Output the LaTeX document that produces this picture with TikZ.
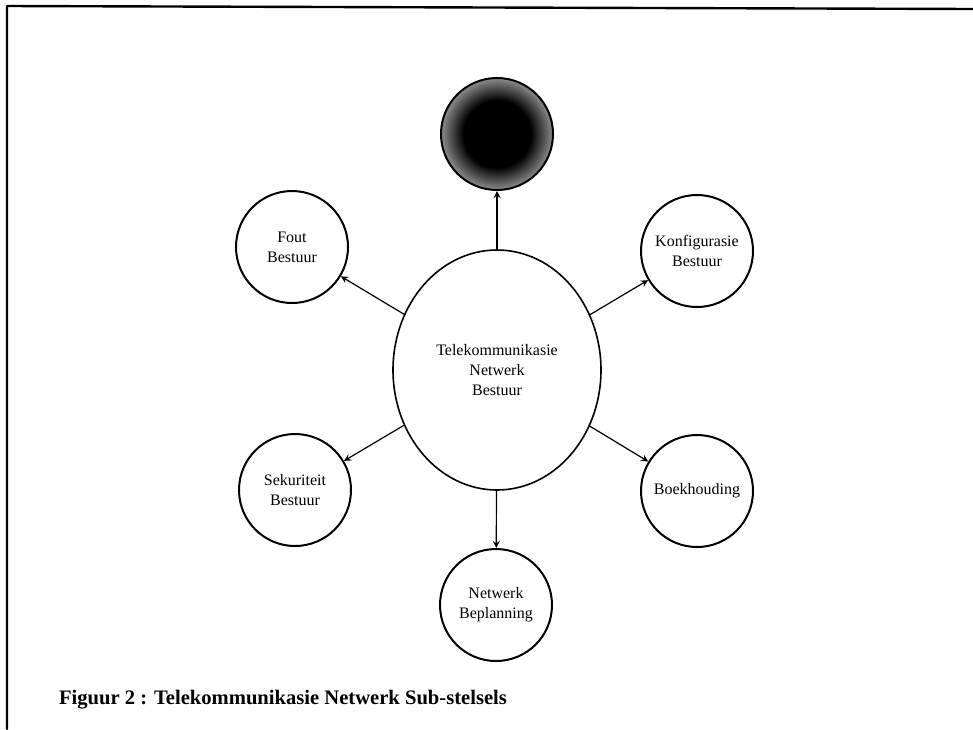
\documentclass[tikz,border=0pt]{standalone}
\usepackage{fontspec}
\setmainfont{Liberation Serif}
\usetikzlibrary{shapes.geometric}
\pgfdeclareradialshading{donkerkol}{\pgfpoint{0bp}{0bp}}{color(0bp)=(black); color(15bp)=(black); color(25bp)=(black!45); color(50bp)=(black!45)}
\begin{document}
\begin{tikzpicture}[x=0.5pt, y=-0.5pt, line join=round, line cap=round, >=stealth,
	sub/.style={circle, draw, line width=1pt, minimum size=56pt, inner sep=0pt, align=center, font=\fontsize{8}{10}\selectfont},
	hub/.style={ellipse, draw, line width=0.8pt, minimum width=104pt, minimum height=120pt, inner sep=0pt, align=center, font=\fontsize{8}{10}\selectfont},
	pyl/.style={->, line width=0.6pt}]
		\useasboundingbox (0, 0) rectangle (973, 729);
		\draw[line width=1.2pt] (7, 729) -- (7, 6) -- (973, 9);
		\node[hub] (net) at (497, 370) {Telekommunikasie\\Netwerk\\Bestuur};
		\node[sub, shading=donkerkol] (donker) at (497, 134) {};
		\node[sub] (fout) at (292, 247) {Fout\\Bestuur};
		\node[sub] (konfig) at (697, 251) {Konfigurasie\\Bestuur};
		\node[sub] (sekur) at (295, 490) {Sekuriteit\\Bestuur};
		\node[sub] (boek) at (697, 491) {Boekhouding};
		\node[sub] (beplan) at (496, 605) {Netwerk\\Beplanning};
		\foreach \t in {donker, fout, konfig, sekur, boek, beplan}
			\draw[pyl] (net) -- (\t);
		\node[anchor=west, font=\fontsize{10.3}{12}\bfseries\selectfont] (titel) at (52, 700) {Figuur 2 : Telekommunikasie Netwerk Sub-stelsels};
	\end{tikzpicture}
\end{document}
